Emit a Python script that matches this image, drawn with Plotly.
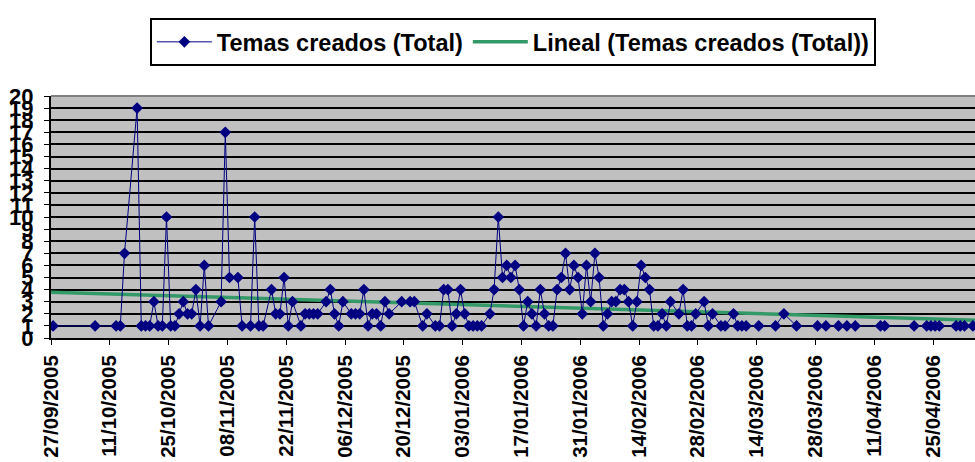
import numpy as np
import pandas as pd
import plotly.graph_objects as go

# ---- data ----
dates = [
    "2005-09-27", "2005-10-07", "2005-10-12", "2005-10-13", "2005-10-14", "2005-10-17", "2005-10-18",
    "2005-10-19", "2005-10-20", "2005-10-21", "2005-10-22", "2005-10-23", "2005-10-24", "2005-10-25",
    "2005-10-26", "2005-10-27", "2005-10-28", "2005-10-29", "2005-10-30", "2005-10-31", "2005-11-01",
    "2005-11-02", "2005-11-03", "2005-11-06", "2005-11-07", "2005-11-08", "2005-11-10", "2005-11-11",
    "2005-11-13", "2005-11-14", "2005-11-15", "2005-11-16", "2005-11-18", "2005-11-19", "2005-11-20",
    "2005-11-21", "2005-11-22", "2005-11-23", "2005-11-25", "2005-11-26", "2005-11-27", "2005-11-28",
    "2005-11-29", "2005-12-01", "2005-12-02", "2005-12-03", "2005-12-04", "2005-12-05", "2005-12-07",
    "2005-12-08", "2005-12-09", "2005-12-10", "2005-12-11", "2005-12-12", "2005-12-13", "2005-12-14",
    "2005-12-15", "2005-12-16", "2005-12-19", "2005-12-21", "2005-12-22", "2005-12-24", "2005-12-25",
    "2005-12-27", "2005-12-28", "2005-12-29", "2005-12-30", "2005-12-31", "2006-01-01", "2006-01-02",
    "2006-01-03", "2006-01-04", "2006-01-05", "2006-01-06", "2006-01-07", "2006-01-09", "2006-01-10",
    "2006-01-11", "2006-01-12", "2006-01-13", "2006-01-14", "2006-01-15", "2006-01-16", "2006-01-17",
    "2006-01-18", "2006-01-19", "2006-01-20", "2006-01-21", "2006-01-22", "2006-01-23", "2006-01-24",
    "2006-01-25", "2006-01-26", "2006-01-27", "2006-01-28", "2006-01-29", "2006-01-30", "2006-01-31",
    "2006-02-01", "2006-02-02", "2006-02-03", "2006-02-04", "2006-02-05", "2006-02-06", "2006-02-07",
    "2006-02-08", "2006-02-09", "2006-02-10", "2006-02-11", "2006-02-12", "2006-02-13", "2006-02-14",
    "2006-02-15", "2006-02-16", "2006-02-17", "2006-02-18", "2006-02-19", "2006-02-20", "2006-02-21",
    "2006-02-23", "2006-02-24", "2006-02-25", "2006-02-26", "2006-02-27", "2006-03-01", "2006-03-02",
    "2006-03-03", "2006-03-05", "2006-03-06", "2006-03-08", "2006-03-09", "2006-03-10", "2006-03-11",
    "2006-03-14", "2006-03-18", "2006-03-20", "2006-03-23", "2006-03-28", "2006-03-30", "2006-04-02",
    "2006-04-04", "2006-04-06", "2006-04-12", "2006-04-13", "2006-04-20", "2006-04-23", "2006-04-24",
    "2006-04-25", "2006-04-26", "2006-04-30", "2006-05-01", "2006-05-02", "2006-05-04",
]
temas_creados = [
    1, 1, 1, 1, 7, 19, 1,
    1, 1, 3, 1, 1, 10, 1,
    1, 2, 3, 2, 2, 4, 1,
    6, 1, 3, 17, 5, 5, 1,
    1, 10, 1, 1, 4, 2, 2,
    5, 1, 3, 1, 2, 2, 2,
    2, 3, 4, 2, 1, 3, 2,
    2, 2, 4, 1, 2, 2, 1,
    3, 2, 3, 3, 3, 1, 2,
    1, 1, 4, 4, 1, 2, 4,
    2, 1, 1, 1, 1, 2, 4,
    10, 5, 6, 5, 6, 4, 1,
    3, 2, 1, 4, 2, 1, 1,
    4, 5, 7, 4, 6, 5, 2,
    6, 3, 7, 5, 1, 2, 3,
    3, 4, 4, 3, 1, 3, 6,
    5, 4, 1, 1, 2, 1, 3,
    2, 4, 1, 1, 2, 3, 1,
    2, 1, 1, 2, 1, 1, 1,
    1, 1, 2, 1, 1, 1, 1,
    1, 1, 1, 1, 1, 1, 1,
    1, 1, 1, 1, 1, 1,
]
axis_start = "2005-09-27"
axis_end = "2006-05-05"
series_name = "Temas creados (Total)"
trend_name = "Lineal (Temas creados (Total))"
y_ticks = list(range(0, 21))

# ---- derived ----
d = pd.to_datetime(dates)
x_plot = d + pd.Timedelta(hours=12)          # Excel date axis: point centred in its day slot
t0 = pd.Timestamp(axis_start)
days = (d - t0).days.values.astype(float)
slope, intercept = np.polyfit(days, np.array(temas_creados, float), 1)
t_end = (pd.Timestamp(axis_end) - t0).days
trend_x = [pd.Timestamp(axis_start), pd.Timestamp(axis_end)]
trend_y = [intercept, intercept + slope * t_end]

fig = go.Figure()
fig.add_trace(go.Scatter(
    x=trend_x, y=trend_y, mode="lines", name=trend_name,
    line=dict(color="#339966", width=3.5),
))
fig.add_trace(go.Scatter(
    x=x_plot, y=temas_creados, mode="lines+markers", name=series_name,
    line=dict(color="#000080", width=1),
    marker=dict(symbol="diamond", size=9, color="#000080"),
))

bold = dict(family="Liberation Sans, Arial, sans-serif", color="black", weight="bold")

fig.update_layout(
    width=975, height=462,
    margin=dict(l=51, r=0, t=96, b=124, autoexpand=False),
    paper_bgcolor="white",
    plot_bgcolor="#C0C0C0",
    showlegend=True,
    legend=dict(
        orientation="h", x=0.107, xanchor="left", y=1.322, yanchor="top",
        bordercolor="black", borderwidth=2, bgcolor="white",
        font=dict(size=23.5, **bold), traceorder="reversed", itemwidth=55,
    ),
    xaxis=dict(
        type="date", range=[axis_start, axis_end], automargin=False,
        tick0=axis_start, dtick=14 * 24 * 3600 * 1000, tickformat="%d/%m/%Y",
        tickangle=-90, tickfont=dict(size=20.5, **bold),
        ticks="outside", ticklen=5, tickcolor="black", tickwidth=1,
        showgrid=False, showline=True, linecolor="black", linewidth=2,
        zeroline=False, ticklabelstandoff=2,
    ),
    yaxis=dict(
        range=[0, 20], tickvals=y_ticks, automargin=False,
        tickfont=dict(size=22, family="Liberation Sans Narrow, Liberation Sans, Arial", color="black", weight="bold"),
        ticks="outside", ticklen=5, tickcolor="black", tickwidth=1,
        showgrid=True, gridcolor="black", gridwidth=2,
        showline=True, linecolor="black", linewidth=2, zeroline=False,
        ticklabelstandoff=6,
    ),
    shapes=[dict(type="line", xref="paper", yref="paper", x0=0, x1=1, y0=1, y1=1,
                 line=dict(color="#808080", width=2), layer="above")],
)

fig.write_html(
    "out.html",
    config={"displayModeBar": False},
    post_script="document.body.style.margin='0px';document.body.style.overflow='hidden';",
)
